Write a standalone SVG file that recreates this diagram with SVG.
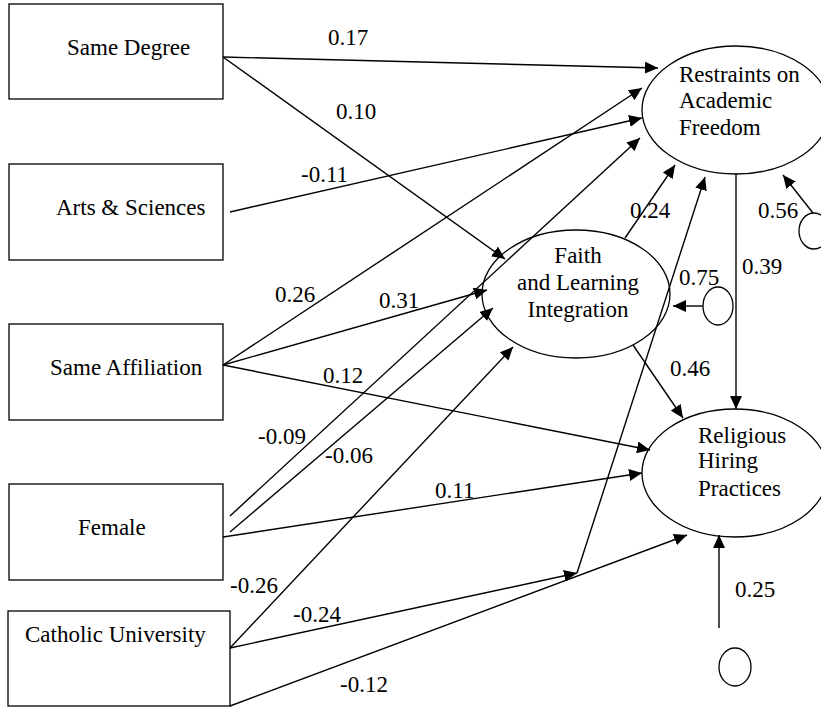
<svg xmlns="http://www.w3.org/2000/svg" width="821" height="708" viewBox="0 0 821 708">
<style>
text{font-family:'Liberation Serif','Times New Roman',serif;font-size:23px;fill:#000}
.box{fill:#fff;stroke:#000;stroke-width:1.3}
.ell{fill:none;stroke:#000;stroke-width:1.3}
.c line{stroke:#000;stroke-width:1.4;fill:none}
.a{marker-end:url(#ah)}
</style>
<defs>
<marker id="ah" markerUnits="userSpaceOnUse" markerWidth="13" markerHeight="12" refX="13" refY="6" orient="auto">
<path d="M0,0 L13,6 L0,12 z" fill="#000"/>
</marker>
</defs>
<rect width="821" height="708" fill="#fff"/>
<g id="same-degree"><rect class="box" x="9" y="4" width="214" height="95"/><text x="67" y="55">Same Degree</text></g>
<g id="arts-sciences"><rect class="box" x="9" y="164" width="214" height="96"/><text x="56" y="215">Arts &amp; Sciences</text></g>
<g id="same-affiliation"><rect class="box" x="9" y="324" width="214" height="96"/><text x="50" y="375">Same Affiliation</text></g>
<g id="female"><rect class="box" x="9" y="484" width="214" height="96"/><text x="78" y="535">Female</text></g>
<g id="catholic"><rect class="box" x="8" y="611" width="222" height="95"/><text x="25" y="642">Catholic University</text></g>
<g id="restraints"><ellipse class="ell" cx="736" cy="110" rx="94" ry="64"/><text x="679" y="82">Restraints on</text><text x="679" y="108">Academic</text><text x="679" y="135">Freedom</text></g>
<g id="faith"><ellipse class="ell" cx="576" cy="294" rx="94" ry="64"/><text x="578" y="263" text-anchor="middle">Faith</text><text x="578" y="290" text-anchor="middle">and Learning</text><text x="578" y="317" text-anchor="middle">Integration</text></g>
<g id="religious"><ellipse class="ell" cx="735" cy="473" rx="93" ry="64"/><text x="698" y="443">Religious</text><text x="698" y="468">Hiring</text><text x="698" y="496">Practices</text></g>
<g id="e-restraints"><ellipse class="ell" cx="814" cy="231" rx="15" ry="18"/></g>
<g id="e-faith"><ellipse class="ell" cx="718" cy="306" rx="15" ry="19"/></g>
<g id="e-religious"><ellipse class="ell" cx="735" cy="667" rx="16" ry="19"/></g>
<g id="connectors" class="c">
<line class="a" x1="223" y1="57" x2="658" y2="68"/>
<line class="a" x1="223" y1="57" x2="505" y2="259"/>
<line class="a" x1="230" y1="212" x2="642" y2="118"/>
<line class="a" x1="223" y1="365" x2="642" y2="88"/>
<line class="a" x1="223" y1="365" x2="487" y2="290"/>
<line class="a" x1="223" y1="365" x2="650" y2="450"/>
<line class="a" x1="230" y1="516" x2="640" y2="138"/>
<line class="a" x1="230" y1="532" x2="493" y2="308"/>
<line class="a" x1="223" y1="537" x2="642" y2="473"/>
<line class="a" x1="230" y1="648" x2="513" y2="347"/>
<line class="a" x1="230" y1="648" x2="577" y2="573"/>
<line class="a" x1="577" y1="573" x2="705" y2="177"/>
<line class="a" x1="230" y1="706" x2="687" y2="535"/>
<line class="a" x1="625" y1="238" x2="675" y2="165"/>
<line class="a" x1="633" y1="345" x2="683" y2="418"/>
<line class="a" x1="736" y1="174" x2="736" y2="409"/>
<line class="a" x1="813" y1="213" x2="783" y2="175"/>
<line class="a" x1="703" y1="306" x2="673" y2="306"/>
<line class="a" x1="719" y1="628" x2="719" y2="535"/>
</g>
<g id="labels">
<text x="328" y="45">0.17</text>
<text x="336" y="119">0.10</text>
<text x="301" y="182">-0.11</text>
<text x="275" y="302">0.26</text>
<text x="379" y="308">0.31</text>
<text x="323" y="383">0.12</text>
<text x="258" y="444">-0.09</text>
<text x="325" y="463">-0.06</text>
<text x="230" y="593">-0.26</text>
<text x="293" y="622">-0.24</text>
<text x="340" y="692">-0.12</text>
<text x="435" y="498">0.11</text>
<text x="670" y="376">0.46</text>
<text x="735" y="597">0.25</text>
<text x="630" y="218">0.24</text>
<text x="758" y="218">0.56</text>
<text x="679" y="285">0.75</text>
<text x="742" y="274">0.39</text>
</g>
</svg>
